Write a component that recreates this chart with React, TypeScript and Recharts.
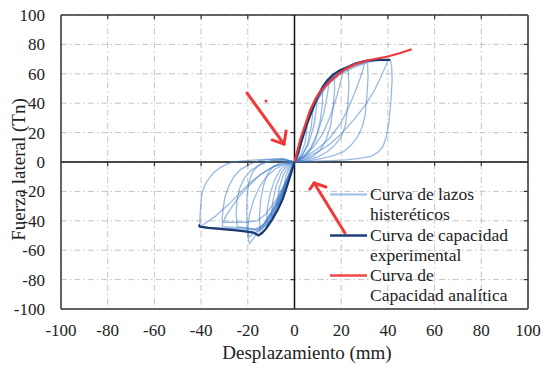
import React from 'react';
import { LineChart, Line, XAxis, YAxis, CartesianGrid, ReferenceLine, ReferenceDot } from 'recharts';

type P = [number, number];

// ---------- axis ticks ----------
const xTicks = [-100, -80, -60, -40, -20, 0, 20, 40, 60, 80, 100];
const yTicks = [-100, -80, -60, -40, -20, 0, 20, 40, 60, 80, 100];
const innerTicks = [-80, -60, -40, -20, 20, 40, 60, 80];

// ---------- capacity curves ----------
const expPositive: P[] = [
  [0, 0], [1.5, 6], [3, 14], [4.5, 22], [6, 29], [8, 37], [10, 45], [12, 51], [14, 55.5],
  [16.5, 59.5], [19.5, 62.5], [22.5, 64.5], [26, 67], [31, 69], [36, 69.5], [41, 69.5],
];
const expNegative: P[] = [
  [0, 0], [-1.5, -8], [-3.3, -17], [-5, -25], [-7, -32], [-9.5, -39], [-12, -45], [-14, -48.5],
  [-15.5, -50], [-17.5, -48], [-22, -47], [-26, -46.3], [-32, -45.5], [-37, -44.8], [-40.5, -44], [-41, -42.5],
];
const analytic: P[] = [
  [0, 0], [2.4, 15], [4.5, 25], [6.6, 35], [9, 43], [11, 48], [13.5, 52], [16, 56], [19, 60],
  [22, 63.5], [26, 66.5], [32, 69.4], [39.5, 71.6], [45, 74], [50.2, 76.7],
];

// ---------- hysteresis loops (positive half cycles) ----------
const pA: P[] = [[0, 0], [8, 0.5], [16, 1], [22, 1.5], [28, 2.5], [33, 4], [36, 7], [38, 11], [39.5, 18], [40.5, 28], [41.3, 42], [41.8, 56], [41.6, 65], [41, 69.5], [36, 69.5], [31, 68.5], [26, 66.5], [21.5, 63.5], [17, 59], [13, 53], [9.5, 43], [6, 29], [3, 14], [0, 0]];
const pB: P[] = [[0, 0], [5, 3], [10, 7], [15, 12], [20, 19], [25, 28], [30, 38], [34, 48], [37, 58], [39, 65], [40, 69], [35, 69], [30, 67.5], [25, 65], [20, 61], [15, 55], [11, 46], [7, 33], [3.5, 17], [0, 0]];
const pC: P[] = [[0, 0], [6, 1], [12, 2.5], [17, 4.5], [21, 7], [24, 11], [27, 17], [29, 24], [30.3, 32], [31, 45], [31.5, 58], [31.3, 67], [30, 68], [26, 66], [21, 62.5], [16, 57], [12, 49], [8, 38], [4, 21], [0, 0]];
const pD: P[] = [[0, 0], [5, 4], [10, 9], [15, 16], [20, 27], [24, 40], [27, 52], [29, 61], [30, 67], [25, 64], [19, 59], [14, 52], [9, 40], [4.5, 22], [0, 0]];
const pE: P[] = [[0, 0], [5, 1.5], [10, 3.5], [14, 7], [17, 11], [20, 17], [21.8, 25], [22.8, 38], [23.3, 52], [23, 62], [22, 64.5], [18, 61], [14, 55], [10, 45], [6, 31], [3, 16], [0, 0]];
const pF: P[] = [[0, 0], [4, 4], [8, 10], [12, 19], [15, 30], [18, 44], [20, 56], [21, 63], [17, 59], [13, 52], [9, 40], [5, 25], [0, 0]];
const pG: P[] = [[0, 0], [4, 1.5], [8, 4], [11, 8], [13.5, 15], [15.5, 25], [16.6, 38], [17.2, 50], [17, 59], [14, 55], [10, 45], [6, 30], [3, 15], [0, 0]];
const pH: P[] = [[0, 0], [4, 4], [7, 10], [10, 20], [12.5, 33], [14, 45], [15, 56], [12, 50], [8.5, 39], [5, 25], [0, 0]];
const pI: P[] = [[0, 0], [3, 2], [6, 6], [9, 15], [11, 28], [12, 40], [12, 50], [9, 42], [6, 30], [3, 15], [0, 0]];
const pJ: P[] = [[0, 0], [3, 4], [6, 12], [8.5, 26], [10, 45], [7, 33], [4, 19], [0, 0]];
const pK: P[] = [[0, 0], [3, 3], [5.5, 12], [7.2, 24], [8, 37], [5, 24], [2.5, 11], [0, 0]];
const pL: P[] = [[0, 0], [2.5, 4], [4.5, 13], [5.5, 25], [3, 14], [0, 0]];
const pM: P[] = [[0, 0], [1.8, 4], [3, 14], [1.5, 7], [0, 0]];

// ---------- hysteresis loops (negative half cycles) ----------
const nA: P[] = [[0, 0], [-5, 2.5], [-10, 2], [-16, 1.5], [-22, 0.8], [-26, 0], [-29, -1.5], [-32, -4], [-34.5, -7], [-36.5, -11], [-38.5, -16], [-39.7, -22], [-40.2, -30], [-40.5, -38], [-40.5, -44], [-36, -45], [-30, -45.8], [-24, -46.5], [-19, -47.5], [-15.5, -49.5], [-12.5, -46], [-9.5, -39], [-6.5, -30], [-3.5, -18], [-1.5, -8], [0, 0]];
const nB: P[] = [[0, 0], [-4, -1], [-9, -3], [-14, -8], [-19, -14], [-24, -22], [-29, -30], [-34, -37], [-38, -41.5], [-40.5, -44], [-36, -44.5], [-30, -45], [-24, -45.5], [-19, -46], [-15, -46.5], [-12, -43], [-9, -36], [-6, -27], [-3, -15], [0, 0]];
const nC: P[] = [[0, 0], [-5, 2], [-10, 1.8], [-15, 1], [-19, -1.5], [-23, -5], [-26, -10], [-28.3, -17], [-29.8, -24], [-30.6, -32], [-31, -39], [-30.8, -44], [-26, -44.5], [-21, -45], [-17, -45.5], [-13.5, -44], [-10.5, -37], [-7.5, -29], [-4.5, -19], [-2, -9], [0, 0]];
const nD: P[] = [[0, 0], [-5, -1], [-10, -4], [-15, -9], [-20, -17], [-24, -24], [-27, -31], [-29.5, -37], [-30.5, -41], [-26, -41], [-21, -41], [-16, -40], [-12, -35], [-8, -26], [-4, -14], [0, 0]];
const nE: P[] = [[0, 0], [-5, 1.5], [-10, 1], [-14.5, -1.5], [-18.5, -5.5], [-21.5, -11], [-23.5, -18], [-24.6, -26], [-25, -35], [-24.5, -44], [-20, -45], [-16.5, -46], [-13, -42], [-10, -35], [-7, -26], [-4, -15], [0, 0]];
const nF: P[] = [[0, 0], [-4, 1.5], [-8, 1.2], [-12, 0.3], [-15.5, -2.5], [-18, -7], [-19.6, -14], [-20.3, -23], [-20.5, -33], [-20.3, -43], [-20, -51], [-19.3, -55.5], [-18, -53], [-16, -48], [-13, -42], [-10, -34], [-6.5, -23], [-3, -11], [0, 0]];
const nG: P[] = [[0, 0], [-4, -1.5], [-8, -4.5], [-12, -10], [-15, -17], [-17.5, -26], [-19.3, -36], [-20, -45], [-19.5, -51], [-16, -47], [-12.5, -41], [-9, -32], [-5.5, -21], [-2.5, -10], [0, 0]];
const nH: P[] = [[0, 0], [-3, 0.5], [-6, -0.5], [-9, -3], [-11.5, -8], [-13.3, -16], [-14.5, -26], [-15, -37], [-14.8, -47], [-12, -42], [-9, -34], [-6, -24], [-3, -12], [0, 0]];
const nI: P[] = [[0, 0], [-3, -1.5], [-6, -5], [-8.5, -12], [-10.5, -22], [-11.7, -33], [-12, -43], [-9, -36], [-6, -26], [-3, -13], [0, 0]];
const nJ: P[] = [[0, 0], [-3, -2], [-5.5, -7], [-7.8, -16], [-9.3, -27], [-10, -38], [-7, -29], [-4, -18], [-2, -8], [0, 0]];
const nK: P[] = [[0, 0], [-2.5, -2.5], [-4.8, -9], [-6.6, -18], [-7.5, -30], [-5, -21], [-2.5, -10], [0, 0]];
const nL: P[] = [[0, 0], [-2, -3], [-3.8, -10], [-5, -22], [-3, -12], [0, 0]];
const nM: P[] = [[0, 0], [-1.5, -3], [-3, -13], [-1.5, -6], [0, 0]];

const loops: P[][] = [pA, pB, pC, pD, pE, pF, pG, pH, pI, pJ, pK, pL, pM, nA, nB, nC, nD, nE, nF, nG, nH, nI, nJ, nK, nL, nM];

// ---------- red hand-drawn annotations (data coordinates) ----------
const arrowOne: P[][] = [
  [[-20.3, 46.9], [-4.5, 12.2]],
  [[-4.5, 12.2], [-9.6, 15]],
  [[-4.5, 12.2], [-3.6, 21.1]],
];
const arrowTwo: P[][] = [
  [[21.6, -48.3], [8.4, -14.3]],
  [[8.4, -14.3], [6.6, -18.4]],
  [[8.4, -14.3], [13.5, -17]],
];
const annotationDot: P = [-12.2, 41.5];

// ---------- legend ----------
const legendItems = [
  { lines: ['Curva de lazos', 'histeréticos'], color: '#9dbde6', width: 2 },
  { lines: ['Curva de capacidad', 'experimental'], color: '#1f3c78', width: 2.5 },
  { lines: ['Curva de', 'Capacidad analítica'], color: '#f04848', width: 2.5 },
];

const toPts = (a: P[]) => a.map(([x, y]) => ({ x, y }));

const FONT = "'Liberation Serif', 'Times New Roman', 'DejaVu Serif', serif";
const TEXT = '#222';
const FRAME = '#333';

const YLabel = (props: any) => {
  const vb = props.viewBox || { x: 0, y: 0, width: 0, height: 0 };
  const cx = vb.x + 10;
  const cy = vb.y + vb.height / 2 + 7.5;
  return (
    <text x={cx} y={cy} transform={`rotate(-90 ${cx} ${cy})`} textAnchor="middle" dominantBaseline="central"
      fontFamily={FONT} fontSize={19} fill={TEXT}>Fuerza lateral (Tn)</text>
  );
};

const XLabel = (props: any) => {
  const vb = props.viewBox || { x: 0, y: 0, width: 0, height: 0 };
  const cx = vb.x + vb.width / 2 + 12.5;
  const cy = vb.y + 43;
  return (
    <text x={cx} y={cy} textAnchor="middle" dominantBaseline="central" fontFamily={FONT} fontSize={19} fill={TEXT}>
      Desplazamiento (mm)
    </text>
  );
};

const tickDown = (p: any) => <line x1={p.cx} y1={p.cy} x2={p.cx} y2={p.cy + 4} stroke={FRAME} strokeWidth={1.2} />;
const tickLeft = (p: any) => <line x1={p.cx - 4} y1={p.cy} x2={p.cx} y2={p.cy} stroke={FRAME} strokeWidth={1.2} />;
const redDot = (p: any) => <circle cx={p.cx} cy={p.cy} r={1.5} fill="#f03a3a" />;

export default function App() {
  return (
    <div style={{ position: 'relative', width: 535, height: 363, marginTop: -6, background: '#fff' }}>
      <LineChart width={535} height={363} margin={{ top: 13, right: 15, bottom: 0, left: 0 }}>
        <CartesianGrid stroke="#c4c4c4" strokeDasharray="6 3 1.5 3" strokeWidth={1} />
        <XAxis type="number" dataKey="x" domain={[-100, 100]} ticks={xTicks} interval={0} height={56}
          tickLine={false} axisLine={{ stroke: FRAME, strokeWidth: 1.5 }} tickMargin={8.5}
          tick={{ fontFamily: FONT, fontSize: 17, fill: TEXT }} allowDataOverflow label={<XLabel />} />
        <YAxis type="number" domain={[-100, 100]} ticks={yTicks} interval={0} width={53}
          tickLine={false} axisLine={{ stroke: FRAME, strokeWidth: 1.5 }} tickMargin={10}
          tick={{ fontFamily: FONT, fontSize: 17, fill: TEXT }} allowDataOverflow label={<YLabel />} />
        <ReferenceLine x={100} stroke={FRAME} strokeWidth={1.5} />
        <ReferenceLine y={100} stroke={FRAME} strokeWidth={1.5} />
        <ReferenceLine x={0} stroke="#111" strokeWidth={1.5} />
        <ReferenceLine y={0} stroke="#111" strokeWidth={1.5} />
        {innerTicks.map((v) => (
          <ReferenceDot key={`zx${v}`} x={v} y={0} r={0} shape={tickDown} />
        ))}
        {innerTicks.map((v) => (
          <ReferenceDot key={`tx${v}`} x={v} y={100} r={0} shape={tickDown} />
        ))}
        {innerTicks.map((v) => (
          <ReferenceDot key={`zy${v}`} x={0} y={v} r={0} shape={tickLeft} />
        ))}
        {innerTicks.map((v) => (
          <ReferenceDot key={`ry${v}`} x={100} y={v} r={0} shape={tickLeft} />
        ))}
        {loops.map((loop, i) => (
          <Line key={`loop${i}`} data={toPts(loop)} dataKey="y" type="linear" stroke="#3f7bc8" strokeOpacity={0.52}
            strokeWidth={1.3} dot={false} activeDot={false} isAnimationActive={false} />
        ))}
        <Line data={toPts(expPositive)} dataKey="y" type="linear" stroke="#1b3a70" strokeWidth={2.2}
          dot={false} activeDot={false} isAnimationActive={false} />
        <Line data={toPts(expNegative)} dataKey="y" type="linear" stroke="#1b3a70" strokeWidth={2.2}
          dot={false} activeDot={false} isAnimationActive={false} />
        <Line data={toPts(analytic)} dataKey="y" type="linear" stroke="#f03a3a" strokeWidth={2.2}
          dot={false} activeDot={false} isAnimationActive={false} />
        {[...arrowOne, ...arrowTwo].map((seg, i) => (
          <ReferenceLine key={`arr${i}`} segment={[{ x: seg[0][0], y: seg[0][1] }, { x: seg[1][0], y: seg[1][1] }]}
            stroke="#f03a3a" strokeWidth={3} strokeLinecap="round" />
        ))}
        <ReferenceDot x={annotationDot[0]} y={annotationDot[1]} r={1.5} shape={redDot} />
      </LineChart>
      {legendItems.map((it, i) => (
        <div key={i} style={{ position: 'absolute', left: 322, top: 182 + i * 40.6, display: 'flex', alignItems: 'flex-start' }}>
          <svg width={40} height={20.3} style={{ display: 'block', flex: 'none' }}>
            <line x1={0} y1={10.5} x2={37} y2={10.5} stroke={it.color} strokeWidth={it.width} />
          </svg>
          <div style={{ fontFamily: FONT, fontSize: 17.5, lineHeight: '20.3px', color: TEXT, whiteSpace: 'nowrap' }}>
            {it.lines.map((l, j) => (
              <div key={j}>{l}</div>
            ))}
          </div>
        </div>
      ))}
    </div>
  );
}
